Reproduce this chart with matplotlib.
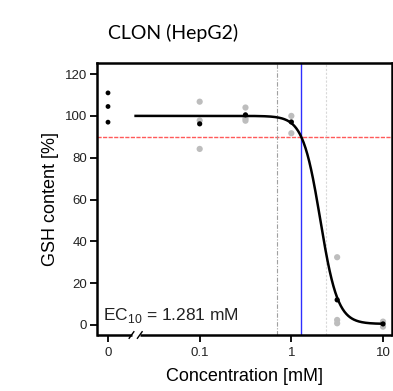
import numpy as np
import matplotlib
matplotlib.use("Agg")
import matplotlib.pyplot as plt

# ---- data ----
ctrl_x = [0.01, 0.01, 0.01]           # control (0 mM) plotted at 0.01
ctrl_y = [111.0, 104.5, 97.0]
rep_x = [0.1, 0.1, 0.1, 0.316, 0.316, 0.316, 1.0, 1.0, 3.16, 3.16, 3.16, 10.0, 10.0]
rep_y = [106.8, 97.8, 84.2, 104.0, 98.7, 97.7, 100.0, 91.7, 32.4, 2.4, 0.8, 1.6, -0.8]
mean_x = [0.1, 0.316, 1.0, 3.16, 10.0]
mean_y = [96.2, 100.5, 97.1, 12.0, 0.5]
top, bottom, ec50, hill = 100.0, 0.5, 2.07, 4.57
ec10 = 1.281
ci_low, ci_high = 0.698, 2.37
xticks = [0.01, 0.1, 1, 10]
xticklabels = ["0", "0.1", "1", "10"]
yticks = [0, 20, 40, 60, 80, 100, 120]

plt.rcParams['font.family'] = ['Liberation Sans', 'DejaVu Sans']
plt.rcParams['mathtext.fontset'] = 'custom'
plt.rcParams['mathtext.rm'] = 'Liberation Sans'

fig = plt.figure(figsize=(3.93, 3.91), dpi=100)
ax = fig.add_axes([97/393, (391-335)/391, 295/393, 272/391])
ax.set_xscale('log')
ax.set_xlim(10**-2.12, 10**1.098)
ax.set_ylim(-4.8, 125.3)

# reference lines
ax.axhline(90, color='#ff5a5a', lw=1.0, ls=(0, (3, 1)), zorder=1)
ax.axvline(ci_low, color='#a0a0a0', lw=0.8, ls=(0, (4, 1.5, 1, 1.5)), zorder=1)
ax.axvline(ec10, color='#2f2fff', lw=1.0, zorder=1)
ax.axvline(ci_high, color='#d8d8d8', lw=0.8, ls=(0, (2, 1.5)), zorder=1)

# curve
xc = np.logspace(np.log10(0.02), np.log10(10), 400)
yc = bottom + (top - bottom) / (1 + (xc / ec50) ** hill)
ax.plot(xc, yc, color='black', lw=1.8, zorder=3)

ax.scatter(rep_x, rep_y, s=20, color='#bdbdbd', edgecolors='none', zorder=2)
ax.scatter(mean_x, mean_y, s=14, color='black', edgecolors='none', zorder=4)
ax.scatter(ctrl_x, ctrl_y, s=12, color='black', edgecolors='none', zorder=4)

# spines
for s in ['left', 'top', 'right']:
    ax.spines[s].set_linewidth(1.8)
ax.spines['bottom'].set_visible(False)
lw = 1.8
bl, br = 0.117, 0.145
ax.plot([0, bl], [0, 0], transform=ax.transAxes, color='black', lw=lw, clip_on=False, solid_capstyle='butt')
ax.plot([br, 1], [0, 0], transform=ax.transAxes, color='black', lw=lw, clip_on=False, solid_capstyle='butt')
for xb in (bl, br):
    ax.plot([xb - 0.008, xb + 0.008], [-0.012, 0.012], transform=ax.transAxes,
            color='black', lw=1.0, clip_on=False)

ax.set_xticks(xticks)
ax.set_xticklabels(xticklabels)
ax.xaxis.set_minor_locator(matplotlib.ticker.NullLocator())
ax.set_yticks(yticks)
ax.tick_params(axis='both', labelsize=9.5, width=1.3, length=5, color='black', labelcolor='#222222')
ax.tick_params(axis='x', pad=4)
ax.tick_params(axis='y', pad=2)

ax.set_xlabel('Concentration [mM]', fontsize=13, labelpad=6)
ax.set_ylabel('GSH content [%]', fontsize=13, labelpad=4)

ax.text(0.019, 0.055, r'EC$_{\mathregular{10}}$ = 1.281 mM', transform=ax.transAxes,
        fontsize=12.5, ha='left', va='baseline', color='#222222')

fig.text(108/393, 1 - 39/391, 'CLON (HepG2)', fontsize=14, family=['Lato', 'DejaVu Sans'],
         ha='left', va='baseline')

fig.savefig('out.png', dpi=100)
